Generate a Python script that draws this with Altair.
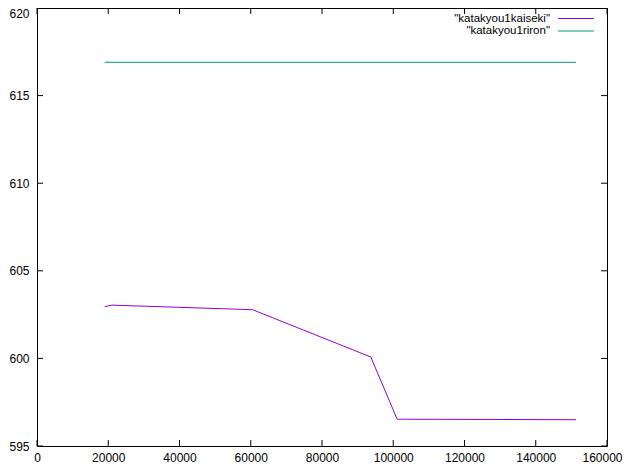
import altair as alt
import pandas as pd

# ---- data ----
series_names = ['"katakyou1kaiseki"', '"katakyou1riron"']
series_colors = ["#9400D3", "#009E73"]

x_kaiseki = [19000, 21000, 60500, 93700, 101100, 151300]
y_kaiseki = [602.95, 603.04, 602.78, 600.08, 596.53, 596.50]

x_riron = [19000, 151300]
y_riron = [616.9, 616.9]

x_ticks = [0, 20000, 40000, 60000, 80000, 100000, 120000, 140000, 160000]
y_ticks = [595, 600, 605, 610, 615, 620]

W, H = 570, 438
TICK = 6
FONT = "Liberation Sans"

rows = []
for i, (xv, yv) in enumerate(zip(x_kaiseki, y_kaiseki)):
    rows.append({"series": series_names[0], "x": xv, "y": yv, "o": i})
for i, (xv, yv) in enumerate(zip(x_riron, y_riron)):
    rows.append({"series": series_names[1], "x": xv, "y": yv, "o": i})
df = pd.DataFrame(rows)

xs = alt.Scale(domain=[0, 160000], nice=False, zero=False)
ys = alt.Scale(domain=[595, 620], nice=False, zero=False)
cs = alt.Scale(domain=series_names, range=series_colors)

lines = alt.Chart(df).mark_line(strokeWidth=1, clip=True).encode(
    x=alt.X("x:Q", scale=xs, axis=alt.Axis(values=x_ticks, title=None, grid=False,
                                           domain=False, ticks=False, labelPadding=6,
                                           format="d", labelFont=FONT, labelFontSize=12,
                                           labelColor="black", labelFlush=False,
                                           labelOverlap=False,
                                           labelOffset=alt.condition("datum.value == 160000",
                                                                     alt.value(-5), alt.value(0)))),
    y=alt.Y("y:Q", scale=ys, axis=alt.Axis(values=y_ticks, title=None, grid=False,
                                           domain=False, ticks=False, labelPadding=8,
                                           format="d", labelFont=FONT, labelFontSize=12,
                                           labelColor="black", labelFlush=False,
                                           labelOverlap=False,
                                           labelOffset=alt.condition("datum.value == 620",
                                                                     alt.value(5), alt.value(0)))),
    color=alt.Color("series:N", scale=cs, legend=None),
    order="o:Q",
)

xt = pd.DataFrame({"t": x_ticks})
yt = pd.DataFrame({"t": y_ticks})

tick_bottom = alt.Chart(xt).mark_rule(color="black", strokeWidth=1).encode(
    x=alt.X("t:Q", scale=xs), y=alt.value(H), y2=alt.value(H - TICK))
tick_top = alt.Chart(xt).mark_rule(color="black", strokeWidth=1).encode(
    x=alt.X("t:Q", scale=xs), y=alt.value(0), y2=alt.value(TICK))
tick_left = alt.Chart(yt).mark_rule(color="black", strokeWidth=1).encode(
    y=alt.Y("t:Q", scale=ys), x=alt.value(0), x2=alt.value(TICK))
tick_right = alt.Chart(yt).mark_rule(color="black", strokeWidth=1).encode(
    y=alt.Y("t:Q", scale=ys), x=alt.value(W - TICK), x2=alt.value(W))

legend_layers = []
for i, (name, col) in enumerate(zip(series_names, series_colors)):
    ldf = pd.DataFrame({"series": [name]})
    ypos = 10.5 + 12.5 * i
    legend_layers.append(
        alt.Chart(ldf).mark_text(align="right", baseline="middle", font=FONT,
                                 fontSize=11.5, color="black").encode(
            text="series:N", x=alt.value(513), y=alt.value(ypos)))
    legend_layers.append(
        alt.Chart(ldf).mark_rule(strokeWidth=1).encode(
            x=alt.value(521), x2=alt.value(557), y=alt.value(ypos),
            color=alt.Color("series:N", scale=cs, legend=None)))

chart = alt.layer(lines, tick_bottom, tick_top, tick_left, tick_right,
                  *legend_layers).properties(
    width=W, height=H,
    autosize=alt.AutoSizeParams(type="none"),
    padding={"left": 29, "top": 0, "right": 17, "bottom": 18},
    background="white",
).configure_view(stroke="black", strokeWidth=1)

chart.save("out.html", embed_options={"renderer": "svg", "actions": False})
